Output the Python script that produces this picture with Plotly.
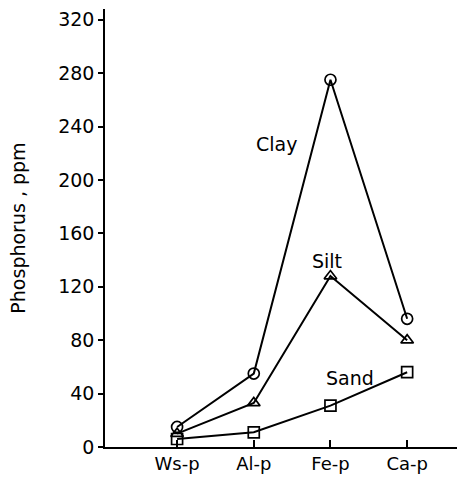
import plotly.graph_objects as go

categories = ["Ws-p", "Al-p", "Fe-p", "Ca-p"]
clay = [15, 55, 275, 96]
silt = [10, 33, 128, 80]
sand = [6, 11, 31, 56]
y_ticks = [0, 40, 80, 120, 160, 200, 240, 280, 320]

xpos = list(range(len(categories)))
FONT = "DejaVu Sans"

fig = go.Figure()
for vals, sym in [(clay, "circle-open"), (silt, "triangle-up-open"), (sand, "square-open")]:
    fig.add_trace(go.Scatter(
        x=xpos, y=vals, mode="lines+markers",
        line=dict(color="black", width=2),
        marker=dict(symbol=sym, size=11, color="black", line=dict(color="black", width=1.7)),
        cliponaxis=False, showlegend=False,
    ))

for text, x, y in [("Clay", 1.30, 227), ("Silt", 1.95, 139), ("Sand", 2.26, 52)]:
    fig.add_annotation(x=x, y=y, text=text, showarrow=False,
                       font=dict(family=FONT, size=19, color="black"))

fig.update_layout(
    width=457, height=479,
    margin=dict(l=105, r=0, t=9, b=32),
    paper_bgcolor="white", plot_bgcolor="white",
    font=dict(family=FONT, size=18, color="black"),
    xaxis=dict(
        range=[-0.94, 3.65], tickvals=xpos, ticktext=categories,
        showline=True, linecolor="black", linewidth=1.5,
        ticks="inside", ticklen=7, tickwidth=1.5, tickcolor="black",
        showgrid=False, zeroline=False,
        tickfont=dict(family=FONT, size=18),
    ),
    yaxis=dict(
        range=[0, 328], tickvals=y_ticks,
        showline=True, linecolor="black", linewidth=1.5,
        ticks="outside", ticklen=5, tickwidth=1.5, tickcolor="black",
        showgrid=False, zeroline=False,
        tickfont=dict(family=FONT, size=19),
        title=dict(text="Phosphorus , ppm", font=dict(family=FONT, size=19), standoff=28),
    ),
)

fig.write_html("out.html", config={"displayModeBar": False},
               post_script="document.body.style.margin='0';document.body.style.overflow='hidden';")
